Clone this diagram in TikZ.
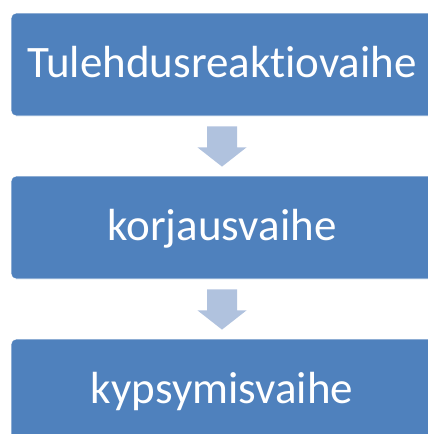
\documentclass[tikz,border=0pt]{standalone}
\usepackage{fontspec}
\setmainfont[RawFeature={-liga;-clig;-dlig;-calt;-rlig}]{Carlito}
\usetikzlibrary{calc}
\definecolor{boxblue}{HTML}{4F81BD}
\definecolor{arrowblue}{HTML}{B0C2DE}
\tikzset{
  phasebox/.style={fill=boxblue, draw=white, line width=0.8pt, rounded corners=5pt,
    minimum width=422pt, minimum height=103pt, inner sep=0pt, text=white,
    font=\fontsize{45}{50}\selectfont, text height=25pt, text depth=0pt},
  downarrow/.style={fill=arrowblue, draw=none}
}
\begin{document}
\begin{tikzpicture}[x=1pt,y=-1pt]
\useasboundingbox (0,0) rectangle (428,434);
\clip (0,0) rectangle (428,434);
\node[phasebox] (b1) at (222,64.5) {Tulehdusreaktiovaihe};
\node[phasebox] (b2) at (222,227.5) {korjausvaihe};
\node[phasebox] (b3) at (222,390.5) {kypsymisvaihe};
\foreach \a/\b in {b1/b2, b2/b3}{
  \fill[downarrow]
    ($(\a.south)+(-15,10)$) -- ($(\a.south)+(15,10)$) --
    ($(\a.south)+(15,31)$) -- ($(\a.south)+(24.5,31)$) --
    ($(\b.north)+(0,-9)$) --
    ($(\a.south)+(-24.5,31)$) -- ($(\a.south)+(-15,31)$) -- cycle;
}
\end{tikzpicture}
\end{document}
